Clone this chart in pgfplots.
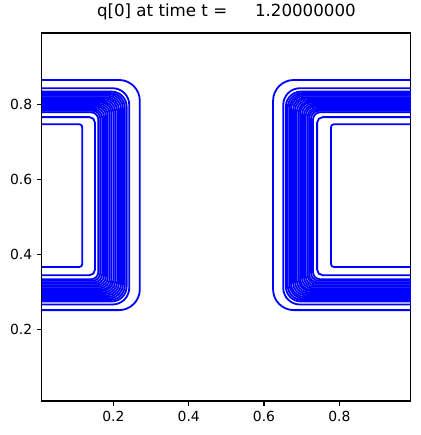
\documentclass[border=0pt]{standalone}
\usepackage{fontspec}
\setmainfont{DejaVu Sans}
\usepackage{pgfplots}
\pgfplotsset{compat=1.18}
\tikzset{cnt/.style={blue, line width=1.3pt, rounded corners=#1}}

\begin{document}
\begin{tikzpicture}
\begin{axis}[
    scale only axis, width=265.7pt, height=265pt,
    xmin=0.01, xmax=0.99, ymin=0.01, ymax=0.99,
    xtick={0.2,0.4,0.6,0.8}, ytick={0.2,0.4,0.6,0.8},
    tick align=outside, tick pos=left, major tick length=3.5pt,
    major tick style={black, line width=0.8pt},
    axis line style={line width=0.8pt},
    /pgf/number format/assume math mode=true,
    /pgf/number format/fixed, /pgf/number format/precision=1,
    ticklabel style={font=\fontsize{10}{12}\selectfont},
    title={q[0] at time t =\hspace{20pt}1.20000000},
    title style={font=\fontsize{12}{14}\selectfont, at={(0.5,1)}, anchor=base, yshift=6pt},
]
% outer contours
\addplot[cnt=15pt] coordinates {(0.01,0.865) (0.270,0.865) (0.270,0.252) (0.01,0.252)};
\addplot[cnt=15pt] coordinates {(0.99,0.865) (0.624,0.865) (0.624,0.252) (0.99,0.252)};
\addplot[cnt=12pt] coordinates {(0.01,0.843) (0.242,0.843) (0.242,0.267) (0.01,0.267)};
\addplot[cnt=12pt] coordinates {(0.99,0.843) (0.651,0.843) (0.651,0.267) (0.99,0.267)};
% dense band
\addplot[cnt=10.8pt] coordinates {(0.01,0.834) (0.235,0.834) (0.235,0.275) (0.01,0.275)};
\addplot[cnt=10.8pt] coordinates {(0.99,0.834) (0.658,0.834) (0.658,0.275) (0.99,0.275)};
\addplot[cnt=10.4pt] coordinates {(0.01,0.830) (0.230,0.830) (0.230,0.279) (0.01,0.279)};
\addplot[cnt=10.4pt] coordinates {(0.99,0.830) (0.663,0.830) (0.663,0.279) (0.99,0.279)};
\addplot[cnt=10pt] coordinates {(0.01,0.827) (0.225,0.827) (0.225,0.283) (0.01,0.283)};
\addplot[cnt=10pt] coordinates {(0.99,0.827) (0.668,0.827) (0.668,0.283) (0.99,0.283)};
\addplot[cnt=9.6pt] coordinates {(0.01,0.823) (0.220,0.823) (0.220,0.287) (0.01,0.287)};
\addplot[cnt=9.6pt] coordinates {(0.99,0.823) (0.672,0.823) (0.672,0.287) (0.99,0.287)};
\addplot[cnt=9.2pt] coordinates {(0.01,0.819) (0.215,0.819) (0.215,0.291) (0.01,0.291)};
\addplot[cnt=9.2pt] coordinates {(0.99,0.819) (0.677,0.819) (0.677,0.291) (0.99,0.291)};
\addplot[cnt=8.9pt] coordinates {(0.01,0.816) (0.210,0.816) (0.210,0.295) (0.01,0.295)};
\addplot[cnt=8.9pt] coordinates {(0.99,0.816) (0.682,0.816) (0.682,0.295) (0.99,0.295)};
\addplot[cnt=8.5pt] coordinates {(0.01,0.812) (0.205,0.812) (0.205,0.299) (0.01,0.299)};
\addplot[cnt=8.5pt] coordinates {(0.99,0.812) (0.687,0.812) (0.687,0.299) (0.99,0.299)};
\addplot[cnt=8.1pt] coordinates {(0.01,0.808) (0.200,0.808) (0.200,0.303) (0.01,0.303)};
\addplot[cnt=8.1pt] coordinates {(0.99,0.808) (0.692,0.808) (0.692,0.303) (0.99,0.303)};
\addplot[cnt=7.7pt] coordinates {(0.01,0.805) (0.195,0.805) (0.195,0.306) (0.01,0.306)};
\addplot[cnt=7.7pt] coordinates {(0.99,0.805) (0.696,0.805) (0.696,0.306) (0.99,0.306)};
\addplot[cnt=7.3pt] coordinates {(0.01,0.801) (0.190,0.801) (0.190,0.310) (0.01,0.310)};
\addplot[cnt=7.3pt] coordinates {(0.99,0.801) (0.701,0.801) (0.701,0.310) (0.99,0.310)};
\addplot[cnt=6.9pt] coordinates {(0.01,0.797) (0.185,0.797) (0.185,0.314) (0.01,0.314)};
\addplot[cnt=6.9pt] coordinates {(0.99,0.797) (0.706,0.797) (0.706,0.314) (0.99,0.314)};
\addplot[cnt=6.5pt] coordinates {(0.01,0.794) (0.180,0.794) (0.180,0.318) (0.01,0.318)};
\addplot[cnt=6.5pt] coordinates {(0.99,0.794) (0.711,0.794) (0.711,0.318) (0.99,0.318)};
\addplot[cnt=6.2pt] coordinates {(0.01,0.790) (0.175,0.790) (0.175,0.322) (0.01,0.322)};
\addplot[cnt=6.2pt] coordinates {(0.99,0.790) (0.716,0.790) (0.716,0.322) (0.99,0.322)};
\addplot[cnt=5.8pt] coordinates {(0.01,0.786) (0.170,0.786) (0.170,0.326) (0.01,0.326)};
\addplot[cnt=5.8pt] coordinates {(0.99,0.786) (0.720,0.786) (0.720,0.326) (0.99,0.326)};
\addplot[cnt=5.6pt] coordinates {(0.01,0.783) (0.165,0.783) (0.165,0.330) (0.01,0.330)};
\addplot[cnt=5.6pt] coordinates {(0.99,0.783) (0.725,0.783) (0.725,0.330) (0.99,0.330)};
\addplot[cnt=5.4pt] coordinates {(0.01,0.779) (0.160,0.779) (0.160,0.334) (0.01,0.334)};
\addplot[cnt=5.4pt] coordinates {(0.99,0.779) (0.730,0.779) (0.730,0.334) (0.99,0.334)};
% inner contours
\addplot[cnt=4pt] coordinates {(0.01,0.766) (0.151,0.766) (0.151,0.345) (0.01,0.345)};
\addplot[cnt=4pt] coordinates {(0.99,0.766) (0.741,0.766) (0.741,0.345) (0.99,0.345)};
\addplot[cnt=2pt] coordinates {(0.01,0.747) (0.117,0.747) (0.117,0.367) (0.01,0.367)};
\addplot[cnt=2pt] coordinates {(0.99,0.747) (0.778,0.747) (0.778,0.367) (0.99,0.367)};
\coordinate (sw) at (rel axis cs:0,0);
\coordinate (ne) at (rel axis cs:1,1);
\end{axis}
\pgfresetboundingbox
\path ([xshift=-30.2pt,yshift=-24.5pt]sw) rectangle ([xshift=7.2pt,yshift=23.8pt]ne);
\end{tikzpicture}
\end{document}
